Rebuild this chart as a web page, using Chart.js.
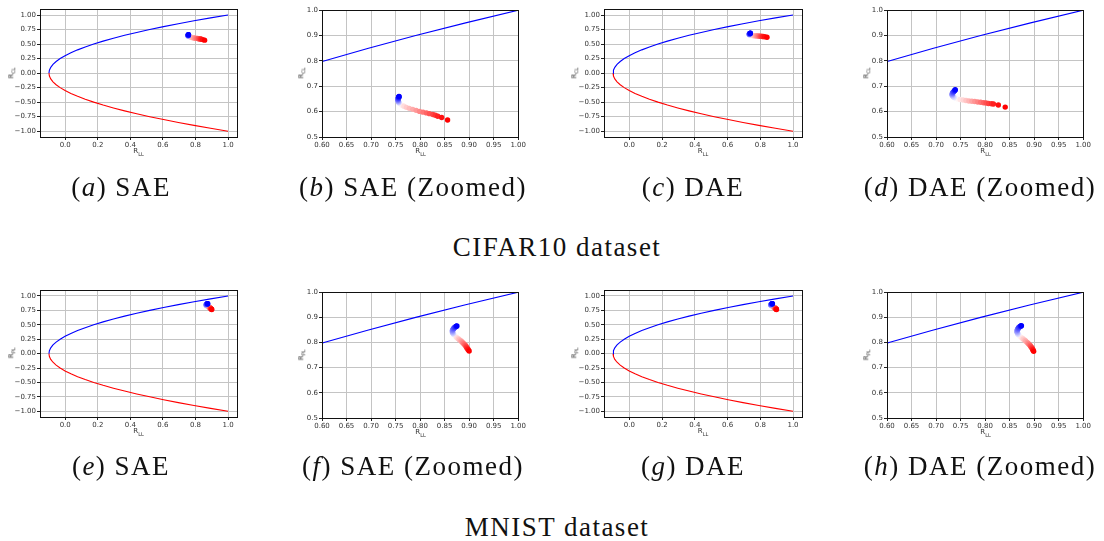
<!DOCTYPE html>
<html>
<head>
<meta charset="utf-8">
<script src="https://cdn.jsdelivr.net/npm/chart.js@4.4.1/dist/chart.umd.min.js"></script>
<style>
  body { margin: 0; background: #fff; width: 1104px; height: 541px; overflow: hidden; position: relative; }
  canvas.panel { position: absolute; }
  .cap { position: absolute; transform: translate(-50%, -50%); font-family: "Liberation Serif", serif; font-size: 27px; letter-spacing: 1.5px; color: #111; white-space: nowrap; }
  .ax { position: absolute; font-family: "DejaVu Sans", sans-serif; font-size: 7px; color: #333; white-space: nowrap; transform: translate(-50%, -50%); }
  .ax sub { font-size: 5px; }
  .ax.y { transform: translate(-50%, -50%) rotate(-90deg); }
</style>
</head>
<body>
<script>
// boundary curve (upper branch blue, lower branch red)
const upperX = [-0.1, -0.09725, -0.089, -0.07525, -0.056, -0.03125, -0.001, 0.03475, 0.076, 0.12275, 0.175,
  0.23275, 0.296, 0.36475, 0.439, 0.51875, 0.604, 0.69475, 0.791, 0.89275, 1.0];
const upperY = [0, 0.05, 0.1, 0.15, 0.2, 0.25, 0.3, 0.35, 0.4, 0.45, 0.5,
  0.55, 0.6, 0.65, 0.7, 0.75, 0.8, 0.85, 0.9, 0.95, 1.0];
const lowerX = upperX;
const lowerY = [0, -0.05, -0.1, -0.15, -0.2, -0.25, -0.3, -0.35, -0.4, -0.45, -0.5,
  -0.55, -0.6, -0.65, -0.7, -0.75, -0.8, -0.85, -0.9, -0.95, -1.0];

// trajectories (index 0 = blue end, last = red end)
const cifarSaeX = [0.757, 0.757, 0.756, 0.756, 0.756, 0.755, 0.755, 0.755, 0.755, 0.755, 0.755, 0.756, 0.756, 0.757, 0.758, 0.760,
  0.763, 0.767, 0.772, 0.778, 0.785, 0.792, 0.799, 0.806, 0.813, 0.819, 0.826, 0.831, 0.836, 0.844, 0.856];
const cifarSaeY = [0.660, 0.659, 0.657, 0.655, 0.653, 0.651, 0.649, 0.647, 0.645, 0.643, 0.641, 0.639, 0.637, 0.635, 0.632, 0.629,
  0.625, 0.621, 0.617, 0.613, 0.609, 0.605, 0.601, 0.598, 0.595, 0.592, 0.589, 0.586, 0.582, 0.577, 0.567];

const cifarDaeX = [0.739, 0.739, 0.738, 0.737, 0.736, 0.735, 0.734, 0.734, 0.733, 0.733, 0.733, 0.733, 0.734, 0.735, 0.737, 0.740,
  0.744, 0.749, 0.755, 0.761, 0.767, 0.773, 0.779, 0.785, 0.791, 0.797, 0.802, 0.807, 0.813, 0.817, 0.827, 0.841];
const cifarDaeY = [0.687, 0.685, 0.683, 0.681, 0.679, 0.677, 0.675, 0.673, 0.671, 0.669, 0.667, 0.665, 0.662, 0.659, 0.656, 0.653,
  0.650, 0.648, 0.646, 0.644, 0.642, 0.641, 0.640, 0.638, 0.637, 0.635, 0.634, 0.632, 0.631, 0.630, 0.626, 0.618];

const mnistSaeX = [0.875, 0.874, 0.873, 0.872, 0.870, 0.869, 0.868, 0.867, 0.866, 0.866, 0.866, 0.866, 0.867, 0.868, 0.869, 0.871,
  0.873, 0.875, 0.878, 0.880, 0.883, 0.885, 0.887, 0.889, 0.891, 0.893, 0.894, 0.895, 0.897, 0.898, 0.900];
const mnistSaeY = [0.866, 0.865, 0.864, 0.862, 0.860, 0.857, 0.855, 0.852, 0.849, 0.846, 0.843, 0.840, 0.837, 0.834, 0.831, 0.827,
  0.823, 0.819, 0.815, 0.811, 0.807, 0.803, 0.799, 0.795, 0.791, 0.787, 0.783, 0.779, 0.775, 0.771, 0.766];

const mnistDaeX = [0.874, 0.873, 0.872, 0.871, 0.869, 0.868, 0.867, 0.866, 0.866, 0.865, 0.865, 0.866, 0.866, 0.867, 0.869, 0.871,
  0.873, 0.876, 0.878, 0.881, 0.883, 0.886, 0.888, 0.890, 0.892, 0.893, 0.895, 0.896, 0.897, 0.898, 0.899];
const mnistDaeY = [0.867, 0.866, 0.865, 0.863, 0.861, 0.858, 0.855, 0.852, 0.849, 0.846, 0.843, 0.840, 0.837, 0.833, 0.829, 0.825,
  0.821, 0.817, 0.813, 0.809, 0.805, 0.800, 0.796, 0.792, 0.788, 0.784, 0.780, 0.776, 0.772, 0.769, 0.765];

const fullXTicks = [0.0, 0.2, 0.4, 0.6, 0.8, 1.0];
const fullYTicks = [-1.0, -0.75, -0.5, -0.25, 0.0, 0.25, 0.5, 0.75, 1.0];
const zoomXTicks = [0.6, 0.65, 0.7, 0.75, 0.8, 0.85, 0.9, 0.95, 1.0];
const zoomYTicks = [0.5, 0.6, 0.7, 0.8, 0.9, 1.0];

const captions = [
  ["a", "SAE"], ["b", "SAE (Zoomed)"], ["c", "DAE"], ["d", "DAE (Zoomed)"],
  ["e", "SAE"], ["f", "SAE (Zoomed)"], ["g", "DAE"], ["h", "DAE (Zoomed)"],
];
const rowTitles = ["CIFAR10 dataset", "MNIST dataset"];

// bwr colormap
function bwr(t) {
  if (t < 0.5) {
    const v = Math.round(255 * t * 2);
    return `rgb(${v},${v},255)`;
  }
  const v = Math.round(255 * (1 - t) * 2);
  return `rgb(255,${v},${v})`;
}

const panels = [
  { kind: "full", xs: cifarSaeX, ys: cifarSaeY, L: 40, R: 237, T: 8, B: 137, yl: "CL", ylx: 12 },
  { kind: "zoom", xs: cifarSaeX, ys: cifarSaeY, L: 322, R: 519, T: 9, B: 137, yl: "CL", ylx: 302 },
  { kind: "full", xs: cifarDaeX, ys: cifarDaeY, L: 604, R: 802, T: 8, B: 137, yl: "CL", ylx: 575 },
  { kind: "zoom", xs: cifarDaeX, ys: cifarDaeY, L: 887, R: 1084, T: 9, B: 137, yl: "CL", ylx: 867 },
  { kind: "full", xs: mnistSaeX, ys: mnistSaeY, L: 40, R: 237, T: 289, B: 417, yl: "PL", ylx: 12 },
  { kind: "zoom", xs: mnistSaeX, ys: mnistSaeY, L: 322, R: 519, T: 291, B: 418, yl: "PL", ylx: 302 },
  { kind: "full", xs: mnistDaeX, ys: mnistDaeY, L: 604, R: 802, T: 289, B: 417, yl: "PL", ylx: 575 },
  { kind: "zoom", xs: mnistDaeX, ys: mnistDaeY, L: 887, R: 1084, T: 291, B: 418, yl: "PL", ylx: 867 },
];

const capX = [121, 413, 693, 980];
const capY = [187, 466];
const rowY = [247, 527];

const spines = {
  id: "spines",
  afterDatasetsDraw(chart) {
    const a = chart.chartArea, ctx = chart.ctx;
    ctx.save();
    ctx.strokeStyle = "#111";
    ctx.lineWidth = 1;
    ctx.strokeRect(Math.round(a.left) + 0.5, Math.round(a.top) + 0.5, Math.round(a.right - a.left), Math.round(a.bottom - a.top));
    ctx.restore();
  },
};

function pts(xs, ys) {
  return xs.map((x, i) => ({ x, y: ys[i] }));
}

function axis(min, max, ticks, digits, fixedSize, horizontal) {
  return {
    type: "linear",
    min, max,
    afterBuildTicks: (s) => { s.ticks = ticks.map((v) => ({ value: v })); },
    afterFit: (s) => { if (horizontal) s.height = fixedSize; else s.width = fixedSize; },
    ticks: {
      color: "#333",
      padding: 1,
      maxRotation: 0,
      autoSkip: false,
      font: { family: "DejaVu Sans", size: 7 },
      callback: (v) => (v < 0 ? "\u2212" : "") + Math.abs(v).toFixed(digits),
    },
    grid: { color: "#c4c4c4", lineWidth: 1, tickColor: "#222", tickLength: 3 },
    border: { color: "#111" },
  };
}

panels.forEach((p, k) => {
  const c = document.createElement("canvas");
  c.className = "panel";
  const W = p.R - p.L + 48, H = p.B - p.T + 4 + 18;
  c.style.left = (p.L - 40) + "px";
  c.style.top = (p.T - 4) + "px";
  c.style.width = W + "px";
  c.style.height = H + "px";
  c.width = W; c.height = H;
  document.body.appendChild(c);

  const full = p.kind === "full";
  const n = p.xs.length;
  // pale middle points underneath, saturated ends on top
  const order = p.xs.map((_, i) => i)
    .sort((a, b) => Math.abs(a / (n - 1) - 0.5) - Math.abs(b / (n - 1) - 0.5));
  const traj = order.map((i) => ({ x: p.xs[i], y: p.ys[i] }));
  const cols = order.map((i) => bwr(i / (n - 1)));
  new Chart(c, {
    type: "scatter",
    data: {
      datasets: [
        {
          data: traj,
          pointRadius: 2.7,
          pointBorderWidth: 0,
          pointBackgroundColor: cols,
          showLine: false,
        },
        { data: pts(upperX, upperY), showLine: true, pointRadius: 0, borderColor: "#0000ff", borderWidth: 1.1 },
        { data: pts(lowerX, lowerY), showLine: true, pointRadius: 0, borderColor: "#ff0000", borderWidth: 1.1 },
      ],
    },
    options: {
      responsive: false,
      animation: false,
      events: [],
      layout: { padding: { left: 0, right: 8, top: 4, bottom: 0 } },
      plugins: { legend: { display: false }, tooltip: { enabled: false } },
      scales: {
        x: full ? axis(-0.155, 1.055, fullXTicks, 1, 18, true) : axis(0.6, 1.0, zoomXTicks, 2, 18, true),
        y: full ? axis(-1.1, 1.1, fullYTicks, 2, 40, false) : axis(0.5, 1.0, zoomYTicks, 1, 40, false),
      },
    },
    plugins: [spines],
  });

  const xl = document.createElement("div");
  xl.className = "ax";
  xl.innerHTML = "R<sub>LL</sub>";
  xl.style.left = (p.L + p.R) / 2 + "px";
  xl.style.top = (p.B + 15) + "px";
  document.body.appendChild(xl);

  const yl = document.createElement("div");
  yl.className = "ax y";
  yl.innerHTML = "R<sub>" + p.yl + "</sub>";
  yl.style.left = p.ylx + "px";
  yl.style.top = (p.T + p.B) / 2 + "px";
  document.body.appendChild(yl);

  const cap = document.createElement("div");
  cap.className = "cap";
  cap.innerHTML = "(<i>" + captions[k][0] + "</i>) " + captions[k][1];
  cap.style.left = capX[k % 4] + "px";
  cap.style.top = capY[Math.floor(k / 4)] + "px";
  document.body.appendChild(cap);
});

rowTitles.forEach((t, r) => {
  const d = document.createElement("div");
  d.className = "cap";
  d.textContent = t;
  d.style.left = "557px";
  d.style.top = rowY[r] + "px";
  document.body.appendChild(d);
});
</script>
</body>
</html>
